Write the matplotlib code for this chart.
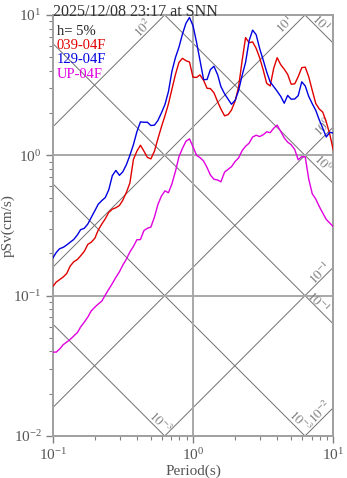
import numpy as np
import matplotlib
matplotlib.use("Agg")
import matplotlib.pyplot as plt
from matplotlib.ticker import LogLocator, NullFormatter

plt.rcParams['font.family'] = ['Liberation Serif', 'DejaVu Serif']
plt.rcParams['mathtext.fontset'] = 'stix'

# response spectra, h = 5%
period = [0.1, 0.106, 0.112, 0.119, 0.126, 0.133, 0.141, 0.150, 0.158, 0.168,
          0.178, 0.188, 0.200, 0.211, 0.224, 0.237, 0.251, 0.266, 0.282, 0.299,
          0.316, 0.335, 0.355, 0.376, 0.398, 0.422, 0.447, 0.473, 0.501, 0.531,
          0.562, 0.596, 0.631, 0.668, 0.708, 0.750, 0.794, 0.841, 0.891, 0.944,
          1.0, 1.06, 1.12, 1.19, 1.26, 1.33, 1.41, 1.50, 1.58, 1.68,
          1.78, 1.88, 2.00, 2.11, 2.24, 2.37, 2.51, 2.66, 2.82, 2.99,
          3.16, 3.35, 3.55, 3.76, 3.98, 4.22, 4.47, 4.73, 5.01, 5.31,
          5.62, 5.96, 6.31, 6.68, 7.08, 7.50, 7.94, 8.41, 8.91, 9.44, 10.0]

psv_039 = [0.116, 0.125, 0.130, 0.136, 0.144, 0.162, 0.174, 0.181, 0.192, 0.207,
           0.232, 0.240, 0.257, 0.293, 0.324, 0.353, 0.392, 0.413, 0.423, 0.439,
           0.479, 0.544, 0.635, 0.933, 1.07, 1.18, 1.07, 0.966, 0.943, 1.07,
           1.31, 1.60, 1.91, 2.32, 2.97, 3.77, 4.59, 4.91, 4.72, 4.62,
           3.60, 3.59, 3.74, 3.42, 3.00, 2.99, 2.79, 2.40, 2.14, 1.91,
           1.95, 2.10, 2.45, 3.04, 4.73, 6.90, 6.34, 6.43, 5.78, 4.94,
           4.08, 3.26, 3.12, 4.17, 4.96, 4.42, 4.11, 3.77, 3.21, 3.23,
           3.63, 4.21, 4.25, 3.63, 2.90, 2.34, 2.14, 2.03, 1.73, 1.41, 1.09]

psv_129 = [0.185, 0.203, 0.216, 0.221, 0.230, 0.240, 0.251, 0.271, 0.295, 0.302,
           0.324, 0.360, 0.404, 0.448, 0.476, 0.500, 0.568, 0.716, 0.780, 0.720,
           0.763, 0.857, 1.00, 1.19, 1.47, 1.73, 1.72, 1.72, 1.63, 1.64,
           1.77, 2.01, 2.30, 2.84, 3.98, 4.98, 5.89, 7.31, 8.73, 9.60,
           8.39, 6.39, 4.78, 3.46, 3.47, 4.08, 4.31, 3.74, 3.09, 2.74,
           2.51, 2.31, 2.47, 2.88, 3.71, 4.59, 6.54, 7.80, 7.23, 5.74,
           4.80, 3.93, 3.33, 3.09, 2.86, 2.63, 2.35, 2.67, 2.51, 2.52,
           2.66, 3.34, 3.12, 2.63, 2.33, 2.09, 1.79, 1.56, 1.35, 1.46, 1.44]

psv_up = [0.0396, 0.0396, 0.0416, 0.0448, 0.0467, 0.0487, 0.0515, 0.0546, 0.0597, 0.0648,
          0.0704, 0.0777, 0.0829, 0.0871, 0.0915, 0.101, 0.111, 0.122, 0.135, 0.148,
          0.165, 0.182, 0.205, 0.224, 0.250, 0.251, 0.291, 0.302, 0.308, 0.363,
          0.446, 0.513, 0.558, 0.541, 0.627, 0.769, 0.976, 1.12, 1.26, 1.31,
          1.15, 1.00, 0.964, 0.911, 0.817, 0.724, 0.675, 0.667, 0.647, 0.760,
          0.795, 0.829, 0.906, 0.955, 1.08, 1.16, 1.22, 1.35, 1.39, 1.36,
          1.40, 1.47, 1.45, 1.56, 1.64, 1.48, 1.33, 1.24, 1.19, 1.10,
          0.929, 0.979, 0.973, 0.678, 0.532, 0.488, 0.432, 0.388, 0.349, 0.329, 0.310]

names = ['039-04F', '129-04F', 'UP-04F']
colors = ['#e00000', '#0000e0', '#e000e0']

# tripartite guide lines: pseudo-acceleration (cm/s^2) and displacement (cm)
acc_decades = [-2, -1, 0, 1, 2]
disp_decades = [-3, -2, -1, 0, 1]

# decade labels on the guide lines: (text, period, pSv, rotation)
guide_labels = [
    ('$10^{2}$', 0.440, 8.08, 45), ('$10^{1}$', 4.52, 8.49, 45),
    ('$10^{1}$', 8.06, 8.77, -45), ('$10^{0}$', 8.45, 1.57, 45),
    ('$10^{0}$', 8.45, 0.881, -45), ('$10^{-1}$', 8.06, 0.145, 45),
    ('$10^{-1}$', 7.78, 0.090, -45), ('$10^{-3}$', 0.582, 0.0124, -45),
    ('$10^{-3}$', 5.80, 0.0126, -45), ('$10^{-2}$', 8.06, 0.0148, 45),
]

fig = plt.figure(figsize=(3.47, 4.78), dpi=100)
ax = fig.add_axes([0.1519, 0.0879, 0.8086, 0.8808])
ax.set_xscale('log')
ax.set_yscale('log')
ax.set_xlim(0.1, 10)
ax.set_ylim(0.01, 10)

tt = np.array([0.05, 20.0])
for k in acc_decades:
    ax.plot(tt, 10.0**k * tt / (2 * np.pi), color='#707070', lw=0.7, zorder=1)
for k in disp_decades:
    ax.plot(tt, 2 * np.pi * 10.0**k / tt, color='#707070', lw=0.7, zorder=1)

ax.grid(True, which='major', color='#a8a8a8', lw=1.4, zorder=0)

for s, t, v, r in guide_labels:
    ax.text(t, v, s, fontsize=9.5, color='#808080', rotation=r,
            ha='center', va='center', zorder=2)

for y, c in zip([psv_039, psv_129, psv_up], colors):
    ax.plot(period, y, color=c, lw=1.0, zorder=3)

for sp in ax.spines.values():
    sp.set_color('#a0a0a0')
    sp.set_linewidth(1.4)

ax.xaxis.set_major_locator(LogLocator(base=10, numticks=5))
ax.xaxis.set_minor_locator(LogLocator(base=10, subs=np.arange(2, 10), numticks=10))
ax.yaxis.set_minor_locator(LogLocator(base=10, subs=np.arange(2, 10), numticks=10))
ax.xaxis.set_minor_formatter(NullFormatter())
ax.yaxis.set_minor_formatter(NullFormatter())
ax.tick_params(which='major', direction='out', length=5, width=1, color='#808080',
               labelsize=11, labelcolor='#555555', pad=3)
ax.tick_params(which='minor', direction='out', length=3, width=0.8, color='#808080')

ax.set_xlabel('Period(s)', fontsize=11, color='#555555', labelpad=1)
ax.set_ylabel('pSv(cm/s)', fontsize=11, color='#555555')
ax.yaxis.set_label_coords(-0.135, 0.5)

fig.text(0.1519, 0.992, '2025/12/08 23:17 at SNN', fontsize=11.5, color='#333333',
         ha='left', va='top')

ax.text(0.015, 0.977, 'h= 5%', transform=ax.transAxes, fontsize=10.5,
        color='#222222', ha='left', va='top')
for i, (n, c) in enumerate(zip(names, colors)):
    ax.text(0.015, 0.944 - i * 0.0345, n, transform=ax.transAxes, fontsize=10.5,
            color=c, ha='left', va='top')

fig.savefig('out.png', dpi=100)
